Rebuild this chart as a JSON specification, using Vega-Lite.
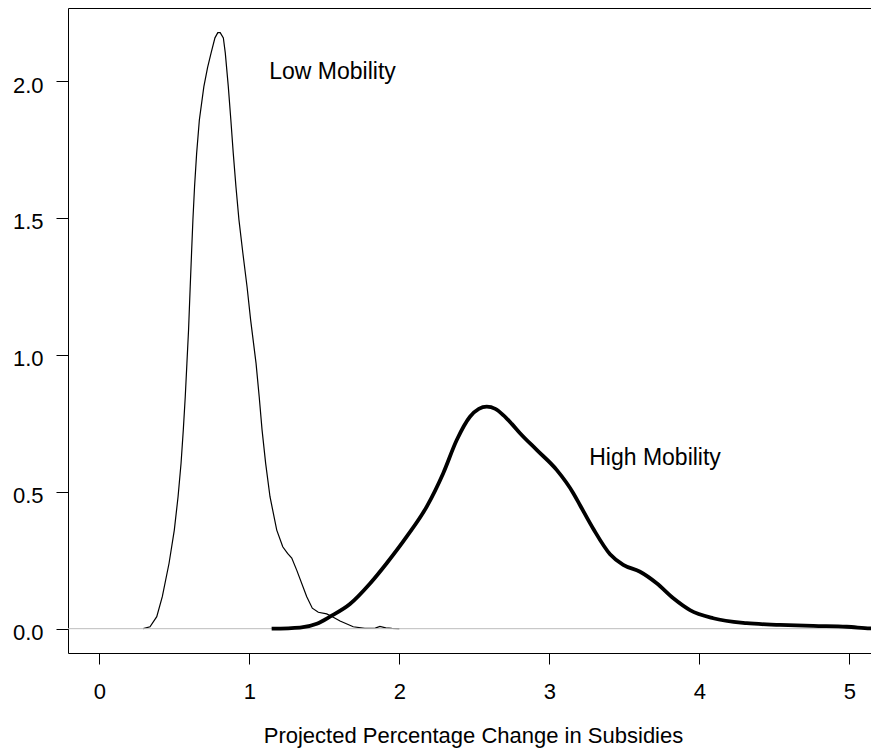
{
  "$schema": "https://vega.github.io/schema/vega-lite/v6.json",
  "width": 803,
  "height": 645,
  "autosize": {"type": "none"},
  "padding": {"left": 68, "top": 8, "right": 0, "bottom": 95},
  "background": "white",
  "config": {
    "view": {"stroke": "black", "strokeWidth": 1},
    "font": "Liberation Sans",
    "axis": {
      "grid": false,
      "domain": false,
      "tickColor": "black",
      "tickWidth": 1,
      "labelColor": "black",
      "labelFont": "Liberation Sans",
      "labelFontSize": 22,
      "titleFont": "Liberation Sans",
      "titleFontSize": 22,
      "titleFontWeight": "normal",
      "titleColor": "black"
    }
  },
  "datasets": {
    "low": [
      {"x": 0.293, "y": 0.0},
      {"x": 0.338, "y": 0.007},
      {"x": 0.383, "y": 0.044},
      {"x": 0.42, "y": 0.117},
      {"x": 0.465, "y": 0.239},
      {"x": 0.5, "y": 0.36},
      {"x": 0.525, "y": 0.482},
      {"x": 0.545, "y": 0.604},
      {"x": 0.56, "y": 0.726},
      {"x": 0.573, "y": 0.847},
      {"x": 0.584, "y": 0.969},
      {"x": 0.595, "y": 1.091},
      {"x": 0.606, "y": 1.249},
      {"x": 0.615, "y": 1.372},
      {"x": 0.624, "y": 1.493},
      {"x": 0.635, "y": 1.614},
      {"x": 0.649, "y": 1.737},
      {"x": 0.667, "y": 1.858},
      {"x": 0.697, "y": 1.98},
      {"x": 0.722, "y": 2.05},
      {"x": 0.745, "y": 2.102},
      {"x": 0.771, "y": 2.158},
      {"x": 0.79, "y": 2.177},
      {"x": 0.806, "y": 2.177},
      {"x": 0.827, "y": 2.158},
      {"x": 0.84, "y": 2.102},
      {"x": 0.86, "y": 1.98},
      {"x": 0.877, "y": 1.858},
      {"x": 0.893, "y": 1.737},
      {"x": 0.911, "y": 1.614},
      {"x": 0.931, "y": 1.493},
      {"x": 0.957, "y": 1.372},
      {"x": 0.985, "y": 1.249},
      {"x": 1.009, "y": 1.127},
      {"x": 1.045, "y": 0.969},
      {"x": 1.066, "y": 0.847},
      {"x": 1.085, "y": 0.726},
      {"x": 1.109, "y": 0.604},
      {"x": 1.138, "y": 0.482},
      {"x": 1.183, "y": 0.36},
      {"x": 1.223, "y": 0.299},
      {"x": 1.255, "y": 0.275},
      {"x": 1.283, "y": 0.258},
      {"x": 1.316, "y": 0.214},
      {"x": 1.383, "y": 0.117},
      {"x": 1.42, "y": 0.075},
      {"x": 1.46, "y": 0.06},
      {"x": 1.516, "y": 0.054},
      {"x": 1.56, "y": 0.042},
      {"x": 1.605, "y": 0.028},
      {"x": 1.693, "y": 0.007},
      {"x": 1.77, "y": 0.001},
      {"x": 1.84, "y": 0.002},
      {"x": 1.871, "y": 0.008},
      {"x": 1.91, "y": 0.003},
      {"x": 1.95, "y": 0.001},
      {"x": 2.0, "y": 0.0}
    ],
    "high": [
      {"x": 1.149, "y": 0.0},
      {"x": 1.338, "y": 0.004},
      {"x": 1.45, "y": 0.018},
      {"x": 1.538, "y": 0.044},
      {"x": 1.671, "y": 0.09},
      {"x": 1.805, "y": 0.165},
      {"x": 1.916, "y": 0.239},
      {"x": 2.049, "y": 0.336},
      {"x": 2.183, "y": 0.446},
      {"x": 2.293, "y": 0.568},
      {"x": 2.383, "y": 0.689},
      {"x": 2.471, "y": 0.774},
      {"x": 2.53, "y": 0.803},
      {"x": 2.583, "y": 0.811},
      {"x": 2.64, "y": 0.803},
      {"x": 2.693, "y": 0.78},
      {"x": 2.75, "y": 0.748},
      {"x": 2.805, "y": 0.714},
      {"x": 2.916, "y": 0.653},
      {"x": 3.049, "y": 0.58},
      {"x": 3.16, "y": 0.495},
      {"x": 3.205, "y": 0.451},
      {"x": 3.293, "y": 0.365},
      {"x": 3.405, "y": 0.272},
      {"x": 3.493, "y": 0.233},
      {"x": 3.605, "y": 0.208},
      {"x": 3.716, "y": 0.166},
      {"x": 3.827, "y": 0.111},
      {"x": 3.938, "y": 0.068},
      {"x": 4.093, "y": 0.038},
      {"x": 4.316, "y": 0.02},
      {"x": 4.538, "y": 0.014},
      {"x": 4.76, "y": 0.01},
      {"x": 4.983, "y": 0.007},
      {"x": 5.138, "y": 0.001},
      {"x": 5.2, "y": 0.0}
    ],
    "labels": [
      {"x": 1.555, "y": 2.007, "label": "Low Mobility"},
      {"x": 3.705, "y": 0.598, "label": "High Mobility"}
    ],
    "zero": [
      {"y": 0}
    ]
  },
  "layer": [
    {
      "data": {"name": "low"},
      "mark": {"type": "line", "color": "black", "strokeWidth": 1.2, "interpolate": "linear", "clip": true},
      "encoding": {
        "x": {
          "field": "x", "type": "quantitative",
          "scale": {"domain": [-0.2087, 5.1447], "nice": false, "zero": false},
          "axis": {
            "values": [0, 1, 2, 3, 4, 5],
            "format": "d",
            "tickSize": 11,
            "labelPadding": 17,
            "title": "Projected Percentage Change in Subsidies",
            "titleX": 405,
            "titleY": 89,
            "titleAlign": "center",
            "titleBaseline": "alphabetic"
          }
        },
        "y": {
          "field": "y", "type": "quantitative",
          "scale": {"domain": [-0.0888, 2.267], "nice": false, "zero": false},
          "axis": {
            "values": [0, 0.5, 1, 1.5, 2],
            "format": ".1f",
            "tickSize": 12,
            "labelPadding": 13,
            "labelOffset": 4,
            "title": null
          }
        }
      }
    },
    {
      "data": {"name": "zero"},
      "mark": {"type": "rule", "color": "#bdbdbd", "strokeWidth": 1},
      "encoding": {"y": {"field": "y", "type": "quantitative"}}
    },
    {
      "data": {"name": "high"},
      "mark": {"type": "line", "color": "black", "strokeWidth": 3.8, "interpolate": "monotone", "clip": true},
      "encoding": {
        "x": {"field": "x", "type": "quantitative"},
        "y": {"field": "y", "type": "quantitative"}
      }
    },
    {
      "data": {"name": "labels"},
      "mark": {"type": "text", "font": "Liberation Sans", "fontSize": 23, "color": "black", "align": "center", "baseline": "alphabetic"},
      "encoding": {
        "x": {"field": "x", "type": "quantitative"},
        "y": {"field": "y", "type": "quantitative"},
        "text": {"field": "label"}
      }
    }
  ]
}
